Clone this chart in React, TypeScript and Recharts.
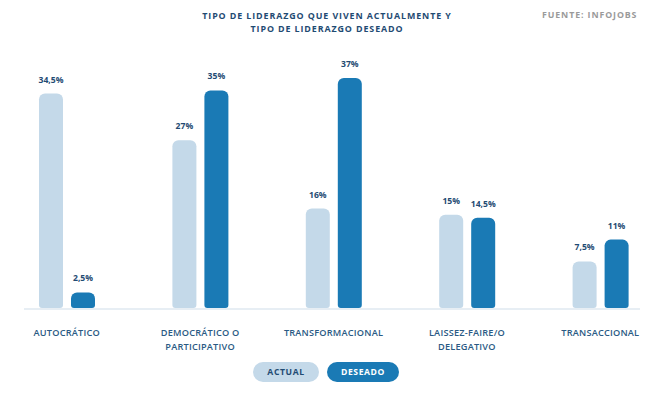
import { BarChart, Bar, XAxis, YAxis, LabelList, ReferenceLine, Legend } from "recharts";

const categories = [
  ["AUTOCRÁTICO"],
  ["DEMOCRÁTICO O", "PARTICIPATIVO"],
  ["TRANSFORMACIONAL"],
  ["LAISSEZ-FAIRE/O", "DELEGATIVO"],
  ["TRANSACCIONAL"],
];
const actual = [34.5, 27, 16, 15, 7.5];
const deseado = [2.5, 35, 37, 14.5, 11];

const data = categories.map((lines, i) => ({
  name: lines.join(" "),
  lines,
  actual: actual[i],
  deseado: deseado[i],
}));

const LIGHT = "#c4d9e9";
const DARK = "#1a7ab5";
const NAVY = "#1f4b73";
const FONT = "'Open Sans', sans-serif";

const fmt = (v: number) => String(v).replace(".", ",") + "%";

function CategoryTick(props: any) {
  const { x, y, payload, index } = props;
  const lines = data[index]?.lines ?? [payload.value];
  return (
    <g transform={`translate(${x},${y})`}>
      {lines.map((l: string, i: number) => (
        <text
          key={i}
          x={0}
          y={20 + i * 14}
          textAnchor="middle"
          fill="#2a5a84"
          fontSize={9.2}
          fontWeight={600}
          letterSpacing={0.2}
          fontFamily={FONT}
        >
          {l}
        </text>
      ))}
    </g>
  );
}

function ValueLabel(props: any) {
  const { x, y, width, value } = props;
  return (
    <text
      x={x + width / 2}
      y={y - 11}
      textAnchor="middle"
      fill={NAVY}
      fontSize={8.6}
      fontWeight={700}
      fontFamily={FONT}
    >
      {fmt(value)}
    </text>
  );
}

function Baseline(props: any) {
  const { x1, x2, y1 } = props;
  return <line x1={x1 + 24} x2={x2 - 27} y1={y1 + 1} y2={y1 + 1} stroke="#dfe8f0" strokeWidth={1.5} />;
}

function PillLegend() {
  const pill = (label: string, bg: string, fg: string, w: number) => (
    <div
      style={{
        width: w,
        height: 20,
        borderRadius: 10,
        background: bg,
        color: fg,
        fontFamily: FONT,
        fontWeight: 700,
        fontSize: 8.6,
        letterSpacing: 0.6,
        display: "flex",
        alignItems: "center",
        justifyContent: "center",
      }}
    >
      {label}
    </div>
  );
  return (
    <div style={{ display: "flex", gap: 8, paddingLeft: 253 }}>
      {pill("ACTUAL", LIGHT, NAVY, 66)}
      {pill("DESEADO", DARK, "#ffffff", 72)}
    </div>
  );
}

export default function App() {
  return (
    <div style={{ position: "absolute", left: 0, top: 0, width: 667, height: 399, background: "#fff" }}>
      <div
        style={{
          position: "absolute",
          left: 0,
          width: 654,
          top: 9,
          textAlign: "center",
          fontFamily: FONT,
          fontWeight: 700,
          fontSize: 8.9,
          lineHeight: "13px",
          letterSpacing: 0.9,
          color: NAVY,
        }}
      >
        TIPO DE LIDERAZGO QUE VIVEN ACTUALMENTE Y
        <br />
        TIPO DE LIDERAZGO DESEADO
      </div>
      <div
        style={{
          position: "absolute",
          left: 542,
          top: 9,
          fontFamily: FONT,
          fontWeight: 700,
          fontSize: 8.8,
          lineHeight: "13px",
          letterSpacing: 0.9,
          color: "#9a9a9a",
        }}
      >
        FUENTE: INFOJOBS
      </div>
      <BarChart
        width={667}
        height={399}
        data={data}
        margin={{ top: 78, right: 0, bottom: 0, left: 0 }}
        barSize={24}
        barGap={8}
      >
        <XAxis
          dataKey="name"
          axisLine={false}
          tickLine={false}
          interval={0}
          height={61}
          tick={<CategoryTick />}
        />
        <YAxis hide domain={[0, 37]} />
        <ReferenceLine y={0} shape={<Baseline />} />
        <Legend
          verticalAlign="bottom"
          height={30}
          content={<PillLegend />}
          wrapperStyle={{ top: 362, left: 0, width: 667 }}
        />
        <Bar dataKey="actual" name="ACTUAL" fill={LIGHT} radius={[6, 6, 3, 3]} isAnimationActive={false}>
          <LabelList dataKey="actual" content={<ValueLabel />} />
        </Bar>
        <Bar dataKey="deseado" name="DESEADO" fill={DARK} radius={[6, 6, 3, 3]} isAnimationActive={false}>
          <LabelList dataKey="deseado" content={<ValueLabel />} />
        </Bar>
      </BarChart>
    </div>
  );
}
